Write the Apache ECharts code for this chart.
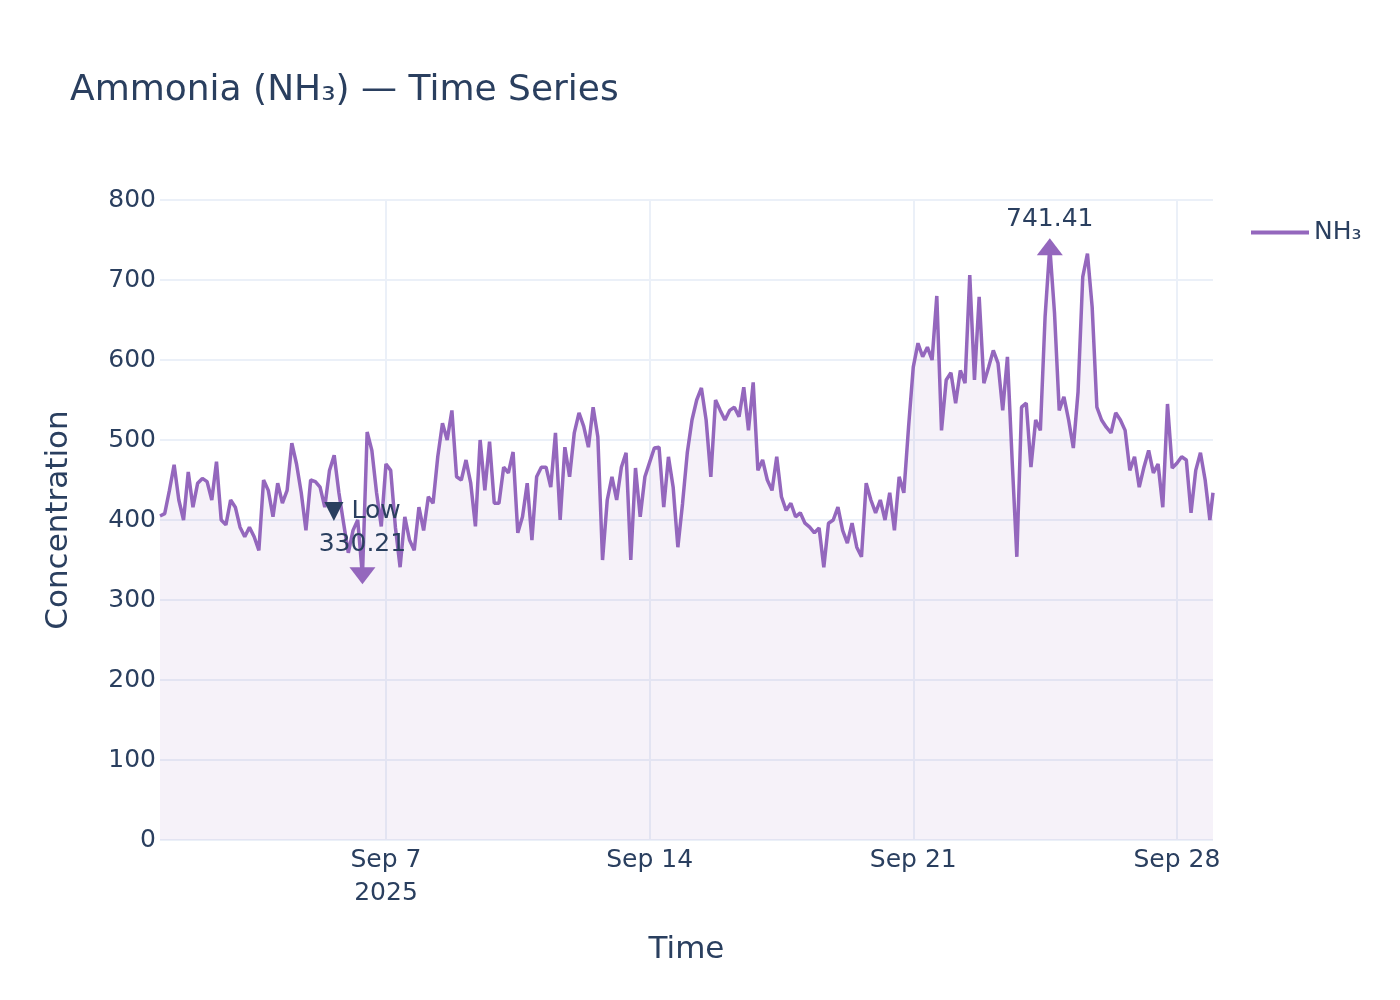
<!DOCTYPE html>
<html>
<head>
<meta charset="utf-8">
<script src="https://cdn.jsdelivr.net/npm/echarts@6/dist/echarts.min.js"></script>
<style>
  html, body { margin: 0; padding: 0; background: #fff; }
  #chart { width: 1400px; height: 1000px; }
</style>
</head>
<body>
<div id="chart"></div>
<script>
// NH3 readings, one every 3 hours from Sep 1 2025 00:00, plus the closing reading at Sep 28 23:00
const seriesName = 'NH₃'
const stepHours = 3
const lastHour = 671
const nh3Values = [
  405, 408, 437, 469, 425, 400, 460, 416, 446, 452, 448, 425, 473, 400, 394, 425, 416, 391, 379, 391,
  379, 362, 450, 437, 404, 446, 421, 437,
  496, 470, 434, 387, 450, 448, 441, 416, 462, 481, 434, 396, 359, 387, 400, 330.21, 510, 487, 434, 392,
  470, 462, 391, 341, 404, 375, 362,
  416, 387, 429, 421, 479, 521, 500, 537, 454, 450, 475, 446, 392, 500, 437, 498, 421, 421, 466, 459,
  485, 384, 404, 446, 375, 454, 466, 466, 441, 509,
  400, 491, 454, 509, 534, 517, 491, 541, 504, 350, 425, 454, 425, 466, 484, 350, 465, 404, 454, 472,
  490, 491, 416, 479, 441, 366,
  421, 484, 525, 550, 565, 525, 454, 550, 537, 525, 537, 541, 529, 566, 512, 572, 462, 475, 450, 437,
  479, 429, 412, 421, 404, 409, 396, 391,
  384, 390, 341, 396, 400, 416, 387, 371, 396, 366, 354, 446, 425, 409, 425, 400, 434, 387, 454, 434,
  516, 591, 621, 604, 616, 600, 680, 512,
  575, 584, 546, 587, 571, 706, 575, 679, 571, 591, 612, 596, 537, 604, 475, 354, 541, 546, 466, 525,
  512, 654, 741.41, 659, 537, 554, 525, 490, 560,
  704, 733, 666, 541, 525, 516, 509, 534, 525, 512, 462, 479, 441, 466, 487, 459, 470, 416, 545, 465,
  471, 479, 475, 409, 462, 484, 450, 400,
  434
]
const tickDays = [7, 14, 21, 28]   // September 2025
const yMin = 0
const yMax = 800
const yStep = 100

const fontFamily = 'DejaVu Sans'
const textColor = '#2a3f5f'
const gridColor = '#ebf0f8'
const lineColor = '#9467bd'
const monthNames = ['Jan','Feb','Mar','Apr','May','Jun','Jul','Aug','Sep','Oct','Nov','Dec']

const hourOf = i => (i === nh3Values.length - 1 ? lastHour : i * stepHours)
const seriesData = nh3Values.map((v, i) => [new Date(2025, 8, 1, hourOf(i)).getTime(), v])
const tickValues = tickDays.map(d => new Date(2025, 8, d).getTime())

const myChart = echarts.init(document.getElementById('chart'))
const option = {
  backgroundColor: '#ffffff',
  textStyle: { fontFamily: fontFamily },
  title: {
    text: 'Ammonia (NH₃) — Time Series',
    left: 65,
    top: 68,
    textStyle: { fontFamily: fontFamily, fontSize: 36, fontWeight: 'normal', color: textColor }
  },
  legend: {
    data: [seriesName],
    left: 1246,
    top: 215,
    icon: 'rect',
    itemWidth: 58,
    itemHeight: 4,
    itemStyle: { color: lineColor },
    textStyle: { fontFamily: fontFamily, fontSize: 25, color: textColor }
  },
  grid: { left: 160, top: 200, width: 1053, height: 640, containLabel: false },
  xAxis: {
    // timestamps on a plain value axis so the weekly ticks can be placed on Sep 7/14/21/28
    type: 'value',
    min: seriesData[0][0],
    max: seriesData[seriesData.length - 1][0],
    name: 'Time',
    nameLocation: 'middle',
    nameGap: 94,
    nameTextStyle: { fontFamily: fontFamily, fontSize: 31, color: textColor },
    axisLine: { show: false },
    axisTick: { show: false, customValues: tickValues },
    axisLabel: {
      customValues: tickValues,
      fontFamily: fontFamily,
      fontSize: 25,
      lineHeight: 33,
      color: textColor,
      margin: 4,
      formatter: function (value) {
        const d = new Date(value)
        const txt = monthNames[d.getMonth()] + ' ' + d.getDate()
        return value === tickValues[0] ? txt + '\n' + d.getFullYear() : txt
      }
    },
    splitLine: { show: true, lineStyle: { color: gridColor, width: 2 } }
  },
  yAxis: {
    type: 'value',
    min: yMin,
    max: yMax,
    interval: yStep,
    name: 'Concentration',
    nameLocation: 'middle',
    nameGap: 86,
    nameRotate: 90,
    nameTextStyle: { fontFamily: fontFamily, fontSize: 31, color: textColor },
    axisLine: { show: false },
    axisTick: { show: false },
    axisLabel: { fontFamily: fontFamily, fontSize: 25, color: textColor, margin: 4 },
    splitLine: { show: true, lineStyle: { color: gridColor, width: 2 } }
  },
  series: [
    {
      name: seriesName,
      type: 'line',
      data: seriesData,
      symbol: 'none',
      sampling: null,
      lineStyle: { color: lineColor, width: 3.5 },
      itemStyle: { color: lineColor },
      areaStyle: { color: 'rgba(148,103,189,0.12)' },
      markPoint: {
        symbol: 'triangle',
        symbolSize: [26, 17],
        itemStyle: { color: lineColor },
        label: {
          show: true,
          position: 'top',
          distance: 6,
          fontFamily: fontFamily,
          fontSize: 25,
          color: textColor
        },
        data: [
          {
            type: 'max',
            name: 'Peak',
            label: { formatter: p => p.value.toFixed(2) }
          },
          {
            type: 'min',
            name: 'Low',
            symbolRotate: 180,
            label: { lineHeight: 33, formatter: p => '▼ Low\n' + p.value.toFixed(2) }
          }
        ]
      }
    }
  ]
}

// 使用刚指定的配置项和数据显示图表。
myChart.setOption(option)
</script>
</body>
</html>
